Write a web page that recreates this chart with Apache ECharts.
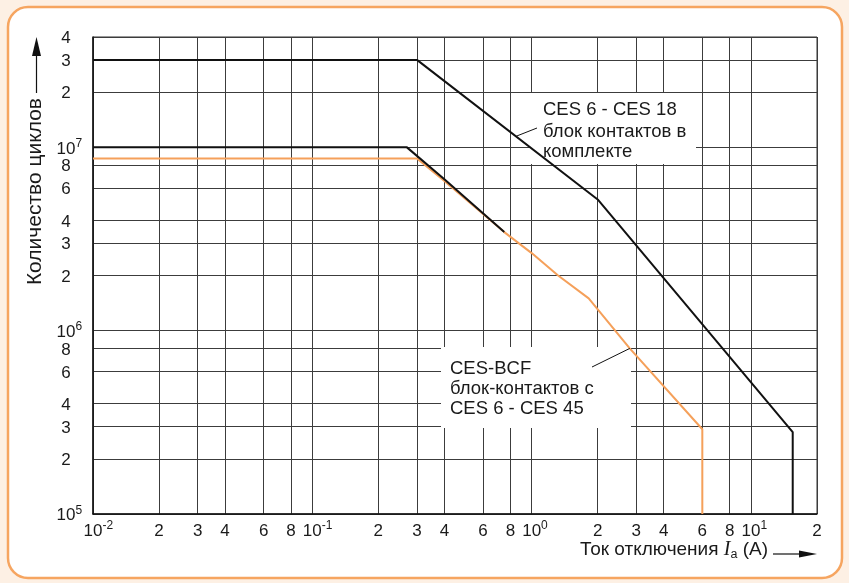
<!DOCTYPE html>
<html>
<head>
<meta charset="utf-8">
<script src="https://cdn.jsdelivr.net/npm/echarts@6/dist/echarts.min.js"></script>
<style>
html,body{margin:0;padding:0;background:#FDF0E4;}
#c{width:849px;height:583px;}
</style>
</head>
<body>
<div id="c"></div>
<script>
// ---- data ----
const xTickValues = [0.01,0.02,0.03,0.04,0.06,0.08,0.1,0.2,0.3,0.4,0.6,0.8,1,2,3,4,6,8,10,20];
const xTickLabels = ['10^-2','2','3','4','6','8','10^-1','2','3','4','6','8','10^0','2','3','4','6','8','10^1','2'];
const yTickValues = [1e5,2e5,3e5,4e5,6e5,8e5,1e6,2e6,3e6,4e6,6e6,8e6,1e7,2e7,3e7,4e7];
const yTickLabels = ['10^5','2','3','4','6','8','10^6','2','3','4','6','8','10^7','2','3','4'];

// CES 6 - CES 18, блок контактов в комплекте
const upperCurrent = [0.01, 0.3, 2, 15.5, 15.5];
const upperCycles  = [3e7, 3e7, 5.2e6, 2.8e5, 1e5];
// lower black curve
const lowerCurrent = [0.01, 0.27, 0.4, 0.75];
const lowerCycles  = [1e7, 1e7, 6.7e6, 3.45e6];
// CES-BCF
const bcfCurrent = [0.01, 0.3, 0.4, 0.75, 1.0, 1.32, 1.82, 2.8, 6, 6];
const bcfCycles  = [8.7e6, 8.7e6, 6.56e6, 3.45e6, 2.65e6, 2.0e6, 1.5e6, 8.0e5, 2.9e5, 1e5];

const box1Lines = ['CES 6 - CES 18', 'блок контактов в', 'комплекте'];
const box2Lines = ['CES-BCF', 'блок-контактов с', 'CES 6 - CES 45'];
const xTitle = ['Ток отключения ', 'I', 'a', ' (A)'];
const yTitle = 'Количество циклов';

// leader anchors on the curves (data space)
const leader1Anchor = [0.85, 1.15e7];
const leader2Anchor = [2.8, 8.0e5];

// ---- chart ----
const FONT = '"Liberation Sans", Arial, sans-serif';
const TXT = '#1a1a1a';
const lg = Math.log10;

const mctx = document.createElement('canvas').getContext('2d');
mctx.font = '12px "Liberation Sans"';
const wPad1 = mctx.measureText('7').width;
const wPad2 = mctx.measureText('-2').width;

function makeFormatter(values, labels) {
  const logs = values.map(v => lg(v));
  return function (val) {
    let idx = 0, best = Infinity;
    logs.forEach((l, i) => { const d = Math.abs(l - val); if (d < best) { best = d; idx = i; } });
    const lab = labels[idx];
    if (lab.indexOf('^') >= 0) {
      const parts = lab.split('^');
      return '{pad' + parts[1].length + '| }{b|' + parts[0] + '}{sup|' + parts[1] + '}';
    }
    return '{b|' + lab + '}';
  };
}
const rich = {
  b: {fontSize: 17, lineHeight: 22, fontFamily: FONT, color: TXT},
  sup: {fontSize: 12, lineHeight: 12, verticalAlign: 'top', fontFamily: FONT, color: TXT},
  pad1: {width: wPad1, fontSize: 12, lineHeight: 12},
  pad2: {width: wPad2, fontSize: 12, lineHeight: 12}
};

function pairs(xs, ys) { return xs.map((x, i) => [lg(x), lg(ys[i])]); }

const chart = echarts.init(document.getElementById('c'), null, {renderer: 'canvas', width: 849, height: 583});

const option = {
  animation: false,
  backgroundColor: '#FDF0E4',
  grid: {left: 93, top: 37, width: 724, height: 477, show: true, borderColor: '#333', borderWidth: 1, backgroundColor: 'rgba(0,0,0,0)'},
  xAxis: {
    type: 'value',
    min: lg(xTickValues[0]), max: lg(xTickValues[xTickValues.length - 1]),
    axisLine: {show: true, onZero: false, lineStyle: {color: '#111', width: 1.5}},
    axisTick: {show: false, customValues: xTickValues.map(v => lg(v))},
    axisLabel: {customValues: xTickValues.map(v => lg(v)), formatter: makeFormatter(xTickValues, xTickLabels), margin: 6, rich: rich, hideOverlap: false},
    splitLine: {show: true, lineStyle: {color: '#3c3c3c', width: 1}}
  },
  yAxis: {
    type: 'value',
    min: lg(yTickValues[0]), max: lg(yTickValues[yTickValues.length - 1]),
    axisLine: {show: true, onZero: false, lineStyle: {color: '#111', width: 1.5}},
    axisTick: {show: false, customValues: yTickValues.map(v => lg(v))},
    axisLabel: {customValues: yTickValues.map(v => lg(v)), formatter: makeFormatter(yTickValues, yTickLabels), margin: 27, align: 'center', padding: [3, 0, 0, 0], rich: rich, hideOverlap: false},
    splitLine: {show: true, lineStyle: {color: '#3c3c3c', width: 1}}
  },
  series: [
    {type: 'line', data: pairs(bcfCurrent, bcfCycles), symbol: 'none', lineStyle: {color: '#F5A05A', width: 2}, z: 3},
    {type: 'line', data: pairs(lowerCurrent, lowerCycles), symbol: 'none', lineStyle: {color: '#111', width: 2}, z: 4},
    {type: 'line', data: pairs(upperCurrent, upperCycles), symbol: 'none', lineStyle: {color: '#111', width: 2}, z: 4}
  ]
};
chart.setOption(option);

const p1 = chart.convertToPixel({gridIndex: 0}, [lg(leader1Anchor[0]), lg(leader1Anchor[1])]);
const p2 = chart.convertToPixel({gridIndex: 0}, [lg(leader2Anchor[0]), lg(leader2Anchor[1])]);

function boxText(lines, x, ys) {
  return lines.map((t, i) => ({
    type: 'text', x: x, y: ys[i], z: 6,
    style: {text: t, font: '18.5px ' + FONT, fill: TXT, align: 'left', verticalAlign: 'middle', textAlign: 'left', textVerticalAlign: 'middle'}
  }));
}

const graphics = [
  {type: 'rect', z: -10, silent: true, shape: {x: 8, y: 7, width: 834, height: 571, r: 20}, style: {fill: '#ffffff', stroke: '#F6A560', lineWidth: 2.5}},
  {type: 'rect', z: 1, shape: {x: 530, y: 93, width: 166, height: 71}, style: {fill: '#ffffff'}},
  {type: 'rect', z: 1, shape: {x: 441, y: 347, width: 190, height: 81}, style: {fill: '#ffffff'}},
  {type: 'line', z: 6, shape: {x1: p1[0], y1: p1[1], x2: 537, y2: 128}, style: {stroke: '#111', lineWidth: 1}},
  {type: 'line', z: 6, shape: {x1: p2[0], y1: p2[1], x2: 592, y2: 367}, style: {stroke: '#111', lineWidth: 1}},
  // x title
  {type: 'text', z: 6, x: 768, y: 550,
    style: {text: '{n|' + xTitle[0] + '}{i|' + xTitle[1] + '}{s|' + xTitle[2] + '}{n|' + xTitle[3] + '}',
      align: 'right', verticalAlign: 'middle', textAlign: 'right', textVerticalAlign: 'middle',
      rich: {
        n: {fontSize: 19, lineHeight: 22, fontFamily: FONT, color: TXT, fill: TXT},
        i: {fontSize: 20, lineHeight: 22, fontFamily: '"Liberation Serif", serif', fontStyle: 'italic', color: TXT, fill: TXT},
        s: {fontSize: 12.5, lineHeight: 12, verticalAlign: 'bottom', fontFamily: FONT, color: TXT, fill: TXT}
      }}},
  {type: 'line', z: 6, shape: {x1: 773, y1: 554, x2: 802, y2: 554}, style: {stroke: '#111', lineWidth: 1.2}},
  {type: 'polygon', z: 6, shape: {points: [[799, 550.5], [817, 554], [799, 557.5]]}, style: {fill: '#111'}},
  // y title
  {type: 'text', z: 6, x: 35, y: 98, rotation: Math.PI / 2,
    style: {text: yTitle, font: '21px ' + FONT, fill: TXT, align: 'right', verticalAlign: 'middle', textAlign: 'right', textVerticalAlign: 'middle'}},
  {type: 'line', z: 6, shape: {x1: 36.5, y1: 93, x2: 36.5, y2: 53}, style: {stroke: '#111', lineWidth: 1.2}},
  {type: 'polygon', z: 6, shape: {points: [[32, 56], [36.5, 37], [41, 56]]}, style: {fill: '#111'}}
].concat(boxText(box1Lines, 543, [109.5, 132, 151.5]))
 .concat(boxText(box2Lines, 450, [369, 389, 409]));

chart.setOption({graphic: {elements: graphics}});
</script>
</body>
</html>
